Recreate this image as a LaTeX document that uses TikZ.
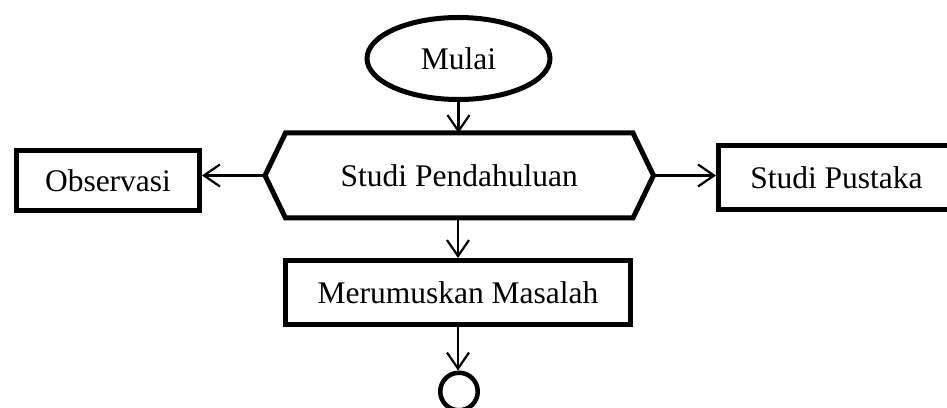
\documentclass[tikz,border=0pt]{standalone}
\usepackage{fontspec}
\setmainfont{Liberation Serif}
\usetikzlibrary{shapes.geometric,arrows.meta}

\tikzset{
  x=1pt, y=1pt,
  every node/.style={font=\fontsize{31.5}{36}\selectfont, inner sep=0pt},
  boxline/.style={draw, line width=5pt, line join=miter},
  procbox/.style={boxline, rectangle},
  startoval/.style={boxline, ellipse},
  endcircle/.style={boxline, circle, line width=4.5pt},
  flow/.style={line width=2.2pt, -{Straight Barb[length=16pt, width=22pt, line width=2.2pt]}}
}

\begin{document}
\begin{tikzpicture}
  \useasboundingbox (0,0) rectangle (947,407);

  % start terminator
  \node[startoval, minimum width=183, minimum height=82] (mulai) at (458.5,348.5) {Mulai};

  % preparation step (hexagon drawn around an invisible frame)
  \node[minimum width=383.5, minimum height=80, outer sep=2.5pt] (sp) at (459.25,231.5) {Studi Pendahuluan};
  \draw[boxline]
    (sp.center -| sp.west) -- ([xshift=20.5]sp.north west) -- ([xshift=-20.5]sp.north east)
    -- (sp.center -| sp.east) -- ([xshift=-20.5]sp.south east) -- ([xshift=20.5]sp.south west) -- cycle;

  % side activities
  \node[procbox, minimum width=183, minimum height=60] (obs) at (108,226.5) {Observasi};
  \node[procbox, minimum width=236, minimum height=64] (pus) at (836.5,229.5) {Studi Pustaka};

  % next step
  \node[procbox, minimum width=345, minimum height=64] (mer) at (458,114.5) {Merumuskan Masalah};

  % off-page connector
  \node[endcircle, minimum size=37.5] (end) at (459,15.5) {};

  % connectors
  \draw[flow] (mulai.south) -- (mulai.south |- sp.north);
  \draw[flow] (sp.center -| sp.west) -- (sp.center -| obs.east);
  \draw[flow] (sp.center -| sp.east) -- (sp.center -| pus.west);
  \draw[flow] (sp.south -| mer.north) -- (mer.north);
  \draw[flow] (mer.south) -- (mer.south |- end.north);
\end{tikzpicture}
\end{document}
